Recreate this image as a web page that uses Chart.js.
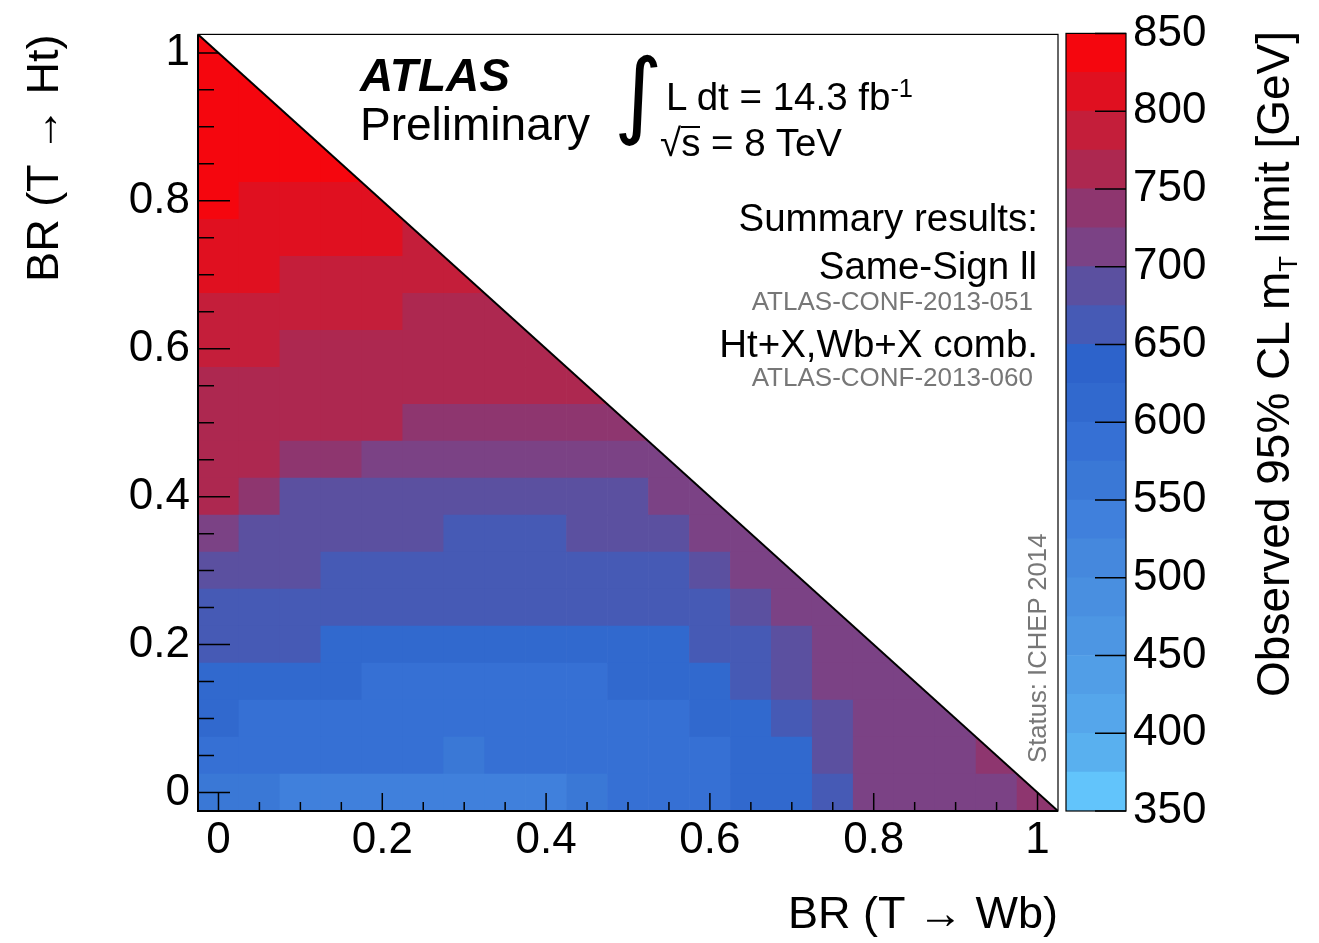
<!DOCTYPE html>
<html>
<head>
<meta charset="utf-8">
<script src="https://cdn.jsdelivr.net/npm/chart.js@4.4.1/dist/chart.umd.min.js"></script>
<style>
  html, body { margin: 0; background: #fff; }
  #wrap { position: relative; width: 1319px; height: 943px; font-family: 'Liberation Sans', Arial, sans-serif; color: #000; }
  #wrap canvas { position: absolute; top: 0; }
  #main { left: 0; }
  #zbar { left: 1060px; }
  .t { position: absolute; white-space: nowrap; line-height: 1; }
  .r { text-align: right; }
  .gray { color: #777; }
  .rot { transform-origin: 0 0; transform: rotate(-90deg); }
  .sup { font-size: 0.66em; vertical-align: 0.5em; line-height: 0; }
  .sub { font-size: 0.56em; vertical-align: -0.3em; line-height: 0; }
  .root { display: inline-block; border-top: 2px solid #000; line-height: 0.78em; }
</style>
</head>
<body>
<div id="wrap">
  <canvas id="main" width="1319" height="943"></canvas>
  <canvas id="zbar" width="259" height="943"></canvas>

  <div class="t" style="left:360px; top:52px; font-size:46px; font-weight:bold; font-style:italic;">ATLAS</div>
  <div class="t" style="left:360px; top:101px; font-size:46px;">Preliminary</div>
  <div class="t" style="left:614px; top:47px; font-size:94px; font-family:'DejaVu Sans';">∫</div>
  <div class="t" style="left:666px; top:78px; font-size:38.5px;">L dt = 14.3 fb<span class="sup">-1</span></div>
  <div class="t" style="left:660px; top:124px; font-size:38.5px;">√<span class="root">s</span> = 8 TeV</div>

  <div class="t r" style="right:281px; top:199px; font-size:38.5px;">Summary results:</div>
  <div class="t r" style="right:282px; top:247px; font-size:38.5px;">Same-Sign ll</div>
  <div class="t r gray" style="right:286px; top:288px; font-size:26px;">ATLAS-CONF-2013-051</div>
  <div class="t r" style="right:281px; top:325px; font-size:38.5px;">Ht+X,Wb+X comb.</div>
  <div class="t r gray" style="right:286px; top:364px; font-size:26px;">ATLAS-CONF-2013-060</div>

  <div class="t rot gray" style="left:1025px; top:763px; font-size:25.7px;">Status: ICHEP 2014</div>
  <div class="t rot r" style="left:1250px; top:811px; width:780px; font-size:46px;">Observed 95% CL m<span class="sub">T</span> limit [GeV]</div>
</div>

<script>
// bin centres of the scan (BR(T->Wb) along x, BR(T->Ht) along y)
const brWb = [0, 0.05, 0.1, 0.15, 0.2, 0.25, 0.3, 0.35, 0.4, 0.45, 0.5, 0.55, 0.6, 0.65, 0.7, 0.75, 0.8, 0.85, 0.9, 0.95, 1];
const brHt = [0, 0.05, 0.1, 0.15, 0.2, 0.25, 0.3, 0.35, 0.4, 0.45, 0.5, 0.55, 0.6, 0.65, 0.7, 0.75, 0.8, 0.85, 0.9, 0.95, 1];
const binHalf = 0.025;
const brTicks = [0, 0.2, 0.4, 0.6, 0.8, 1];

// observed 95% CL limit on m_T [GeV], one row per BR(T->Ht) bin, columns follow brWb
const limits = [
  [565, 565, 540, 540, 540, 540, 540, 540, 540, 565, 590, 590, 590, 612, 612, 662, 712, 712, 712, 712, 738], // Ht = 0
  [590, 590, 590, 590, 590, 590, 565, 590, 590, 590, 590, 590, 590, 612, 612, 688, 712, 712, 712, 738],
  [612, 590, 590, 590, 590, 590, 590, 590, 590, 590, 590, 590, 612, 612, 662, 688, 712, 712, 712],
  [612, 612, 612, 612, 590, 590, 590, 590, 590, 590, 612, 612, 612, 662, 688, 712, 712, 712],
  [662, 662, 662, 612, 612, 612, 612, 612, 612, 612, 612, 612, 662, 662, 688, 712, 712],        // Ht = 0.2
  [662, 662, 662, 662, 662, 662, 662, 662, 662, 662, 662, 662, 662, 688, 712, 712],
  [688, 688, 688, 662, 662, 662, 662, 662, 662, 662, 662, 662, 688, 712, 712],
  [712, 688, 688, 688, 688, 688, 662, 662, 662, 688, 688, 688, 712, 712],
  [762, 738, 688, 688, 688, 688, 688, 688, 688, 688, 688, 712, 712],                             // Ht = 0.4
  [762, 762, 738, 738, 712, 712, 712, 712, 712, 712, 712, 712],
  [762, 762, 762, 762, 762, 738, 738, 738, 738, 738, 738],
  [762, 762, 762, 762, 762, 762, 762, 762, 762, 762],
  [788, 788, 762, 762, 762, 762, 762, 762, 762],                                                 // Ht = 0.6
  [788, 788, 788, 788, 788, 762, 762, 762],
  [812, 812, 788, 788, 788, 788, 788],
  [812, 812, 812, 812, 812, 788],
  [838, 812, 812, 812, 812],                                                                     // Ht = 0.8
  [838, 838, 838, 838],
  [838, 838, 838],
  [838, 838],
  [838]                                                                                          // Ht = 1
];

// colour palette: 20 bands of 25 GeV between 350 and 850
const zEdges = [350, 375, 400, 425, 450, 475, 500, 525, 550, 575, 600, 625, 650, 675, 700, 725, 750, 775, 800, 825, 850];
const zColours = ['#62c4fb', '#59b0ef', '#55a6eb', '#519ee7', '#4d96e3', '#498fe0', '#4588dd', '#4080dc', '#3a78d6', '#3670d4',
                  '#3169ce', '#2d63cb', '#465ab5', '#5b50a0', '#7b4285', '#8e366f', '#ad2850', '#c41e3a', '#e01020', '#f5060e'];
const zTicks = [350, 400, 450, 500, 550, 600, 650, 700, 750, 800, 850];

Chart.defaults.font.family = "'Liberation Sans', Arial, sans-serif";
Chart.defaults.color = '#000';

function colourOf(v) {
  let k = Math.floor((v - zEdges[0]) / 25);
  return zColours[Math.max(0, Math.min(zColours.length - 1, k))];
}

const brLabel = v => String(+v.toFixed(2));
const fixTicks = list => s => { s.ticks = list.map(v => ({ value: v })); };

// ROOT style frame with inward ticks, hidden above the diagonal
const frame = {
  id: 'frame',
  afterDatasetsDraw(chart) {
    const { ctx, chartArea: a, scales: { x, y } } = chart;
    ctx.save();
    ctx.beginPath();
    ctx.moveTo(a.left, a.top);
    ctx.lineTo(a.right, a.bottom);
    ctx.lineTo(a.left, a.bottom);
    ctx.closePath();
    ctx.clip();
    ctx.strokeStyle = '#000';
    ctx.lineWidth = 1.5;
    ctx.beginPath();
    brWb.forEach((v, i) => {
      const major = i % 4 === 0;
      const px = x.getPixelForValue(v);
      ctx.moveTo(px, a.bottom);
      ctx.lineTo(px, a.bottom - (major ? 18 : 9));
    });
    brHt.forEach((v, i) => {
      const major = i % 4 === 0;
      const py = y.getPixelForValue(v);
      ctx.moveTo(a.left, py);
      ctx.lineTo(a.left + (major ? 32 : 16), py);
    });
    ctx.stroke();
    ctx.restore();

    ctx.save();
    ctx.strokeStyle = '#000';
    ctx.lineWidth = 1.2;
    ctx.strokeRect(a.left, a.top, a.right - a.left, a.bottom - a.top);
    ctx.lineWidth = 2;
    ctx.beginPath();
    ctx.moveTo(a.left, a.top);
    ctx.lineTo(a.left, a.bottom);
    ctx.lineTo(a.right, a.bottom);
    ctx.stroke();
    ctx.restore();
  }
};

new Chart(document.getElementById('main'), {
  type: 'bar',
  data: {
    datasets: [
      {
        type: 'line',
        data: [
          { x: brWb[0] - binHalf, y: brHt[brHt.length - 1] + binHalf },
          { x: brWb[brWb.length - 1] + binHalf, y: brHt[0] - binHalf }
        ],
        borderColor: '#000',
        borderWidth: 2,
        backgroundColor: '#fff',
        fill: 'end',
        pointRadius: 0,
        order: 0
      },
      ...limits.map((row, k) => ({
        data: row.map((v, i) => ({ x: brWb[i], y: [brHt[k] - binHalf, brHt[k] + binHalf] })),
        backgroundColor: row.map(colourOf),
        grouped: false,
        barPercentage: 1,
        categoryPercentage: 1,
        borderWidth: 0,
        order: 1
      }))
    ]
  },
  options: {
    responsive: false,
    animation: false,
    layout: { padding: { left: 0, top: 31, right: 261, bottom: 0 } },
    plugins: { legend: { display: false }, tooltip: { enabled: false } },
    scales: {
      x: {
        type: 'linear',
        min: brWb[0] - binHalf,
        max: brWb[brWb.length - 1] + binHalf,
        bounds: 'data',
        offset: false,
        grid: { display: false, drawTicks: false },
        border: { display: false },
        ticks: { autoSkip: false, maxRotation: 0, padding: 3, font: { size: 44 }, callback: brLabel },
        afterBuildTicks: fixTicks(brTicks),
        title: { display: true, text: 'BR (T → Wb)', align: 'end', font: { size: 45 }, padding: 0 },
        afterFit: s => { s.height = 132; }
      },
      y: {
        type: 'linear',
        min: brHt[0] - binHalf,
        max: brHt[brHt.length - 1] + binHalf,
        bounds: 'data',
        grid: { display: false, drawTicks: false },
        border: { display: false },
        ticks: { autoSkip: false, padding: 8, font: { size: 44 }, callback: brLabel },
        afterBuildTicks: fixTicks(brTicks),
        title: { display: true, text: 'BR (T → Ht)', align: 'end', font: { size: 45 }, padding: { top: 19, bottom: 0 } },
        afterFit: s => { s.width = 198; }
      }
    }
  },
  plugins: [frame]
});

// colour scale
const zFrame = {
  id: 'zFrame',
  afterDatasetsDraw(chart) {
    const { ctx, chartArea: a, scales: { y } } = chart;
    ctx.save();
    ctx.strokeStyle = '#000';
    ctx.lineWidth = 1.5;
    ctx.beginPath();
    zTicks.forEach(v => {
      const py = y.getPixelForValue(v);
      ctx.moveTo(a.right, py);
      ctx.lineTo(a.right - 31, py);
    });
    ctx.stroke();
    ctx.lineWidth = 1.2;
    ctx.strokeRect(a.left, a.top, a.right - a.left, a.bottom - a.top);
    ctx.restore();
  }
};

new Chart(document.getElementById('zbar'), {
  type: 'bar',
  data: {
    labels: [''],
    datasets: zColours.map((c, k) => ({
      data: [[zEdges[k], zEdges[k + 1]]],
      backgroundColor: c,
      grouped: false,
      barPercentage: 1,
      categoryPercentage: 1,
      borderWidth: 0
    }))
  },
  options: {
    responsive: false,
    animation: false,
    layout: { padding: { left: 6, top: 31, right: 0, bottom: 132 } },
    plugins: { legend: { display: false }, tooltip: { enabled: false } },
    scales: {
      x: { display: false },
      y: {
        position: 'right',
        min: zEdges[0],
        max: zEdges[zEdges.length - 1],
        bounds: 'data',
        grid: { display: false, drawTicks: false },
        border: { display: false },
        ticks: { autoSkip: false, padding: 7, font: { size: 44 } },
        afterBuildTicks: fixTicks(zTicks),
        afterFit: s => { s.width = 193; }
      }
    }
  },
  plugins: [zFrame]
});
</script>
</body>
</html>
